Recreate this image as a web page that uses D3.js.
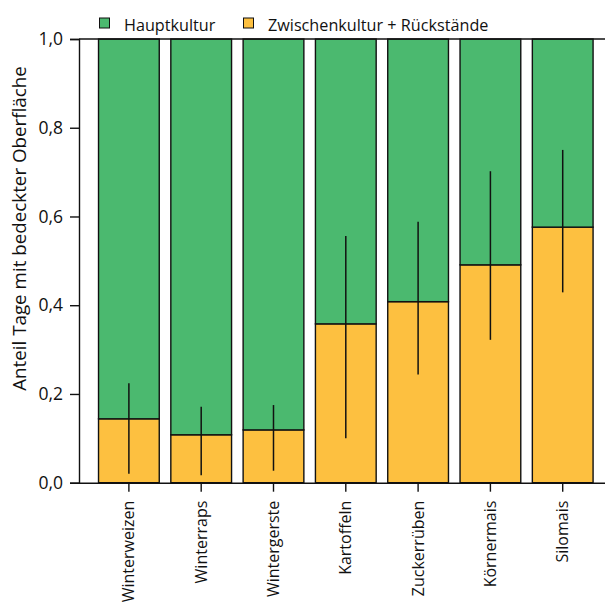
<!DOCTYPE html>
<html>
<head>
<meta charset="utf-8">
<script src="https://cdn.jsdelivr.net/npm/d3@7"></script>
<style>
  html, body { margin: 0; padding: 0; background: #fff; }
  svg { display: block; }
  text { font-family: "Open Sans", "Noto Sans", sans-serif; fill: #111; }
</style>
</head>
<body>
<div id="chart"></div>
<script>
// Crop types along the x axis
const categories = ["Winterweizen", "Winterraps", "Wintergerste", "Kartoffeln", "Zuckerrüben", "Körnermais", "Silomais"];
// Share of days covered by intercrop + residues (lower stack)
const zwischenkultur = [0.144, 0.108, 0.119, 0.358, 0.408, 0.491, 0.576];
// Error range of the intercrop share
const errLow  = [0.020, 0.017, 0.027, 0.100, 0.244, 0.322, 0.429];
const errHigh = [0.224, 0.171, 0.175, 0.556, 0.588, 0.702, 0.750];
// Main crop fills the remainder up to 1
const hauptkultur = zwischenkultur.map(v => 1 - v);
const yTicks = [0, 0.2, 0.4, 0.6, 0.8, 1.0];
const seriesNames = ["Hauptkultur", "Zwischenkultur + Rückstände"];
const seriesColors = ["#4bb96f", "#fdc040"];
const yLabel = "Anteil Tage mit bedeckter Oberfläche";

const W = 605, H = 603;
const svg = d3.select("#chart").append("svg").attr("width", W).attr("height", H);

const x = d3.scaleBand().domain(categories).range([79, 612.6]).paddingInner(0.16).paddingOuter(0.27);
const y = d3.scaleLinear().domain([0, 1]).range([482.7, 39]);

const fmt = d3.format(".1f");
const de = v => fmt(v).replace(".", ",");

// Stacked data
const rows = categories.map((c, i) => ({ cat: c, z: zwischenkultur[i], h: hauptkultur[i], lo: errLow[i], hi: errHigh[i] }));
const stack = d3.stack().keys(["z", "h"])(rows);

const gBars = svg.append("g");
stack.forEach((layer, li) => {
  gBars.append("g")
    .selectAll("rect")
    .data(layer)
    .join("rect")
    .attr("x", d => x(d.data.cat))
    .attr("width", x.bandwidth())
    .attr("y", d => y(d[1]))
    .attr("height", d => y(d[0]) - y(d[1]))
    .attr("fill", li === 0 ? seriesColors[1] : seriesColors[0])
    .attr("stroke", "#111")
    .attr("stroke-width", 1.4);
});

// Error bars
svg.append("g").selectAll("line")
  .data(rows)
  .join("line")
  .attr("x1", d => x(d.cat) + x.bandwidth() / 2)
  .attr("x2", d => x(d.cat) + x.bandwidth() / 2)
  .attr("y1", d => y(d.lo))
  .attr("y2", d => y(d.hi))
  .attr("stroke", "#111")
  .attr("stroke-width", 1.5);

// Top frame line at 1,0
svg.append("line")
  .attr("x1", 79).attr("x2", 612.6)
  .attr("y1", y(1)).attr("y2", y(1))
  .attr("stroke", "#111").attr("stroke-width", 1.4);

// Y axis
const yAxis = svg.append("g")
  .attr("transform", "translate(79,0)")
  .call(d3.axisLeft(y).tickValues(yTicks).tickFormat(de).tickSize(9).tickPadding(7));
yAxis.select(".domain").attr("stroke", "#111").attr("stroke-width", 1.4);
yAxis.selectAll(".tick line").attr("stroke", "#111").attr("stroke-width", 1.4);
yAxis.selectAll(".tick text").attr("font-size", 17.5).attr("font-family", "'Open Sans', sans-serif").attr("fill", "#111");

// X axis
const xAxis = svg.append("g")
  .attr("transform", `translate(0,${y(0)})`)
  .call(d3.axisBottom(x).tickSize(9).tickSizeOuter(0));
xAxis.select(".domain").attr("stroke", "#111").attr("stroke-width", 1.4);
xAxis.selectAll(".tick line").attr("stroke", "#111").attr("stroke-width", 1.4);
xAxis.selectAll(".tick text")
  .attr("font-size", 16)
  .attr("font-family", "'Open Sans', sans-serif")
  .attr("fill", "#111")
  .attr("text-anchor", "end")
  .attr("transform", "rotate(-90)")
  .attr("x", -18)
  .attr("y", 0)
  .attr("dy", "0.35em");

// Y axis title
svg.append("text")
  .attr("transform", `translate(26,${228.5}) rotate(-90)`)
  .attr("text-anchor", "middle")
  .attr("font-size", 18.8)
  .text(yLabel);

// Legend
const legendItems = [
  { name: seriesNames[0], color: seriesColors[0], x: 99.5 },
  { name: seriesNames[1], color: seriesColors[1], x: 243.5 }
];
const lg = svg.append("g").selectAll("g").data(legendItems).join("g")
  .attr("transform", d => `translate(${d.x},18)`);
lg.append("rect").attr("width", 10).attr("height", 10)
  .attr("fill", d => d.color).attr("stroke", "#111").attr("stroke-width", 1);
lg.append("text").attr("x", 24.5).attr("y", 12.5).attr("font-size", 16.2).text(d => d.name);
</script>
</body>
</html>
